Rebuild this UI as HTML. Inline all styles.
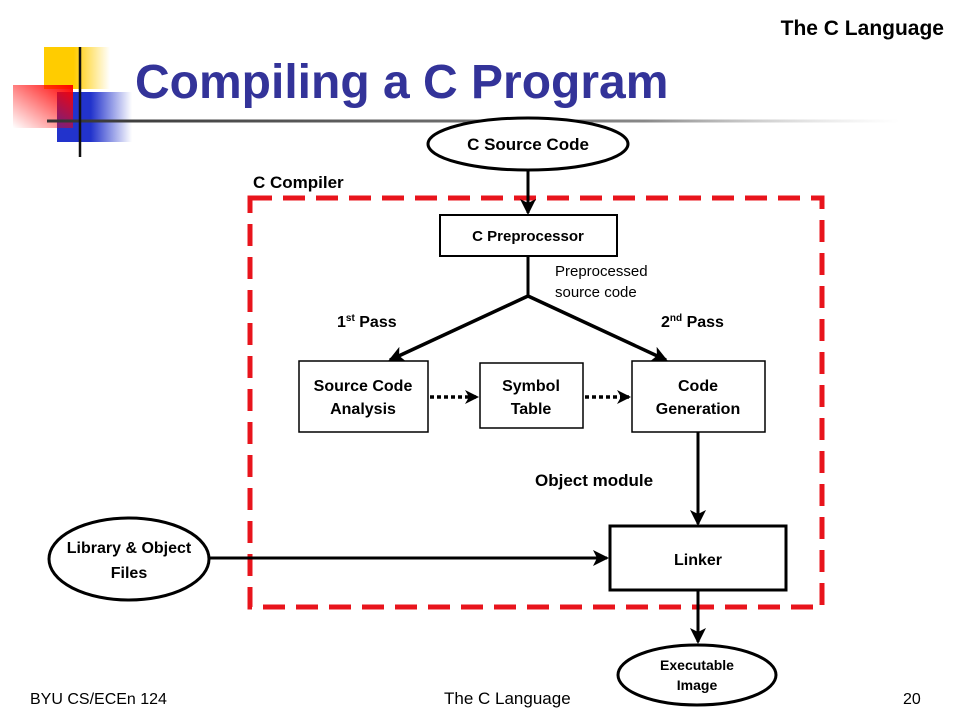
<!DOCTYPE html>
<html><head><meta charset="utf-8"><style>
body{margin:0;background:#fff;width:960px;height:720px;overflow:hidden}
svg{display:block;font-family:"Liberation Sans",Arial,sans-serif}
</style></head><body>
<svg width="960" height="720" viewBox="0 0 960 720" xmlns="http://www.w3.org/2000/svg">
<defs>
<linearGradient id="gy" x1="0" x2="1"><stop offset="0.45" stop-color="#ffcc00"/><stop offset="1" stop-color="#ffcc00" stop-opacity="0"/></linearGradient>
<linearGradient id="gb" x1="0" x2="1"><stop offset="0.45" stop-color="#2233cc"/><stop offset="1" stop-color="#2233cc" stop-opacity="0"/></linearGradient>
<linearGradient id="gr" x1="1" y1="0" x2="0" y2="1"><stop offset="0" stop-color="#ff0000"/><stop offset="1" stop-color="#ff0000" stop-opacity="0"/></linearGradient>
<linearGradient id="gl" x1="0" x2="1"><stop offset="0" stop-color="#333"/><stop offset="0.7" stop-color="#888"/><stop offset="1" stop-color="#ccc" stop-opacity="0"/></linearGradient>
<marker id="ah" markerWidth="14" markerHeight="14" refX="12" refY="7" orient="auto" markerUnits="userSpaceOnUse"><path d="M0,0 L14,7 L0,14 L4,7 z" fill="#000"/></marker>
<marker id="ahb" markerWidth="16" markerHeight="16" refX="14" refY="8" orient="auto" markerUnits="userSpaceOnUse"><path d="M0,0 L16,8 L0,16 L4,8 z" fill="#000"/></marker>
</defs>
<rect x="44" y="47" width="66" height="42" fill="url(#gy)"/>
<rect x="57" y="92" width="75" height="50" fill="url(#gb)"/>
<rect x="13" y="85" width="60" height="43" fill="url(#gr)"/>
<rect x="47" y="119.5" width="853" height="3" fill="url(#gl)"/>
<line x1="80" y1="47" x2="80" y2="157" stroke="#111" stroke-width="2.5"/>
<text x="135" y="98" font-size="48" font-weight="bold" fill="#333399">Compiling a C Program</text>
<text x="944" y="35" font-size="21" font-weight="bold" text-anchor="end">The C Language</text>

<rect x="250" y="198" width="572" height="409" fill="none" stroke="#e8141c" stroke-width="5" stroke-dasharray="22,11"/>
<text x="253" y="188" font-size="17" font-weight="bold">C Compiler</text>

<ellipse cx="528" cy="144" rx="100" ry="26" fill="#fff" stroke="#000" stroke-width="3"/>
<text x="528" y="150" font-size="17" font-weight="bold" text-anchor="middle">C Source Code</text>
<line x1="528" y1="170" x2="528" y2="213" stroke="#000" stroke-width="3" marker-end="url(#ahb)"/>

<rect x="440" y="215" width="177" height="41" fill="#fff" stroke="#000" stroke-width="2"/>
<text x="528" y="241" font-size="15" font-weight="bold" text-anchor="middle">C Preprocessor</text>
<polyline points="528,256 528,296" fill="none" stroke="#000" stroke-width="3"/>
<line x1="528" y1="296" x2="390" y2="360" stroke="#000" stroke-width="3.5" marker-end="url(#ahb)"/>
<line x1="528" y1="296" x2="666" y2="360" stroke="#000" stroke-width="3.5" marker-end="url(#ahb)"/>
<text x="555" y="276" font-size="15">Preprocessed</text>
<text x="555" y="297" font-size="15">source code</text>
<text x="337" y="327" font-size="16" font-weight="bold">1<tspan font-size="10" dy="-6">st</tspan><tspan dy="6"> Pass</tspan></text>
<text x="661" y="327" font-size="16" font-weight="bold">2<tspan font-size="10" dy="-6">nd</tspan><tspan dy="6"> Pass</tspan></text>

<rect x="299" y="361" width="129" height="71" fill="#fff" stroke="#000" stroke-width="1.5"/>
<text x="363" y="391" font-size="16" font-weight="bold" text-anchor="middle">Source Code</text>
<text x="363" y="414" font-size="16" font-weight="bold" text-anchor="middle">Analysis</text>
<rect x="480" y="363" width="103" height="65" fill="#fff" stroke="#000" stroke-width="1.5"/>
<text x="531" y="391" font-size="16" font-weight="bold" text-anchor="middle">Symbol</text>
<text x="531" y="414" font-size="16" font-weight="bold" text-anchor="middle">Table</text>
<rect x="632" y="361" width="133" height="71" fill="#fff" stroke="#000" stroke-width="1.5"/>
<text x="698" y="391" font-size="16" font-weight="bold" text-anchor="middle">Code</text>
<text x="698" y="414" font-size="16" font-weight="bold" text-anchor="middle">Generation</text>
<line x1="430" y1="397" x2="477" y2="397" stroke="#000" stroke-width="3.5" stroke-dasharray="4,3" marker-end="url(#ah)"/>
<line x1="585" y1="397" x2="629" y2="397" stroke="#000" stroke-width="3.5" stroke-dasharray="4,3" marker-end="url(#ah)"/>

<text x="535" y="486" font-size="17" font-weight="bold">Object module</text>
<line x1="698" y1="432" x2="698" y2="524" stroke="#000" stroke-width="3" marker-end="url(#ahb)"/>
<rect x="610" y="526" width="176" height="64" fill="#fff" stroke="#000" stroke-width="3"/>
<text x="698" y="565" font-size="16" font-weight="bold" text-anchor="middle">Linker</text>

<ellipse cx="129" cy="559" rx="80" ry="41" fill="#fff" stroke="#000" stroke-width="3"/>
<text x="129" y="553" font-size="16" font-weight="bold" text-anchor="middle">Library &amp; Object</text>
<text x="129" y="578" font-size="16" font-weight="bold" text-anchor="middle">Files</text>
<line x1="209" y1="558" x2="607" y2="558" stroke="#000" stroke-width="3" marker-end="url(#ahb)"/>

<line x1="698" y1="590" x2="698" y2="642" stroke="#000" stroke-width="3" marker-end="url(#ahb)"/>
<ellipse cx="697" cy="675" rx="79" ry="30" fill="#fff" stroke="#000" stroke-width="3"/>
<text x="697" y="670" font-size="14" font-weight="bold" text-anchor="middle">Executable</text>
<text x="697" y="690" font-size="14" font-weight="bold" text-anchor="middle">Image</text>

<text x="30" y="704" font-size="16">BYU CS/ECEn 124</text>
<text x="444" y="704" font-size="17">The C Language</text>
<text x="903" y="704" font-size="16">20</text>
</svg>
</body></html>
